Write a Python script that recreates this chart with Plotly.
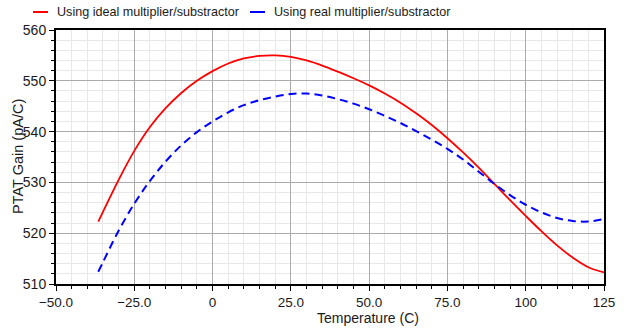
import plotly.graph_objects as go

temps = [-36.5, -35, -30, -25, -20, -15, -10, -5, 0, 5, 10, 15, 20, 25, 30, 35, 40, 45, 50, 55,
         60, 65, 70, 75, 80, 85, 90, 95, 100, 105, 110, 115, 120, 125]
ideal = [522.3, 524.2, 530.5, 536.2, 540.9, 544.6, 547.6, 550.0, 551.9, 553.4, 554.4, 554.9, 555.0,
         554.7, 554.0, 553.0, 551.8, 550.5, 549.1, 547.5, 545.7, 543.6, 541.3, 538.7,
         535.9, 532.9, 529.7, 526.5, 523.4, 520.4, 517.6, 515.2, 513.3, 512.3]
real = [512.4, 514.3, 520.5, 525.8, 530.3, 534.1, 537.3, 539.9, 542.0, 543.8, 545.2, 546.2, 546.9,
        547.4, 547.5, 547.1, 546.4, 545.5, 544.4, 543.1, 541.7, 540.1, 538.4, 536.6,
        534.5, 532.1, 529.7, 527.5, 525.6, 524.1, 523.0, 522.4, 522.3, 522.8]
series_names = ["Using ideal multiplier/substractor", "Using real multiplier/substractor"]
series_colors = ["#ff0000", "#0000ff"]

x_tickvals = [-50, -25, 0, 25, 50, 75, 100, 125]
x_ticktext = ["\u221250.0", "\u221225.0", "0", "25.0", "50.0", "75.0", "100", "125"]
y_tickvals = [510, 520, 530, 540, 550, 560]

FONT = "Liberation Sans, Arial, Helvetica"
TXT = "#1a1a1a"

fig = go.Figure()
fig.add_trace(go.Scatter(x=temps, y=ideal, mode="lines", name=series_names[0],
                         line=dict(color=series_colors[0], width=1.8, shape="spline")))
fig.add_trace(go.Scatter(x=temps, y=real, mode="lines", name=series_names[1],
                         line=dict(color=series_colors[1], width=2, shape="spline", dash="8px,5px")))

axis_common = dict(showline=True, linecolor="black", linewidth=2, mirror=True,
                   ticks="outside", tickcolor="black", ticklen=5, tickwidth=1,
                   showgrid=True, gridcolor="#ababab", gridwidth=1, zeroline=False)

fig.update_xaxes(range=[-50, 125], tickvals=x_tickvals, ticktext=x_ticktext,
                 tickfont=dict(family=FONT, size=13.5, color=TXT),
                 minor=dict(dtick=5, showgrid=True, gridcolor="#e8e8e8", ticks="outside",
                            ticklen=3, tickcolor="black"),
                 **axis_common)
fig.update_yaxes(range=[510, 560], tickvals=y_tickvals,
                 tickfont=dict(family=FONT, size=14, color=TXT),
                 minor=dict(dtick=2, showgrid=True, gridcolor="#e8e8e8", ticks="outside",
                            ticklen=3, tickcolor="black"),
                 **axis_common)

# plot area: x px 56..604, y px 30..284
W, H = 642, 329
L, R, T, B = 56, 38, 30, 45
pw, ph = W - L - R, H - T - B

def px_x(p):
    return (p - L) / pw

def px_y(p):
    return (H - B - p) / ph

annotations = [
    dict(text="Temperature (C)", x=px_x(368), y=px_y(318), xref="paper", yref="paper",
         xanchor="center", yanchor="middle", showarrow=False,
         font=dict(family=FONT, size=14, color=TXT)),
    dict(text="PTAT Gain (pA/C)", x=px_x(18), y=0.5, xref="paper", yref="paper",
         xanchor="center", yanchor="middle", textangle=-90, showarrow=False,
         font=dict(family=FONT, size=14.5, color=TXT)),
]
shapes = []
legend_line_x = [(33, 48), (250, 265)]
legend_text_x = [55, 272]
for name, color, (x0, x1), tx in zip(series_names, series_colors, legend_line_x, legend_text_x):
    shapes.append(dict(type="line", xref="paper", yref="paper",
                       x0=px_x(x0), x1=px_x(x1), y0=px_y(12), y1=px_y(12),
                       line=dict(color=color, width=2)))
    annotations.append(dict(text=name, x=px_x(tx), y=px_y(12), xref="paper", yref="paper",
                            xanchor="left", yanchor="middle", showarrow=False,
                            font=dict(family=FONT, size=12.6, color=TXT)))

fig.update_layout(
    width=W, height=H,
    margin=dict(l=L, r=R, t=T, b=B),
    plot_bgcolor="white", paper_bgcolor="white",
    showlegend=False,
    annotations=annotations,
    shapes=shapes,
)

fig.write_html("out.html")
